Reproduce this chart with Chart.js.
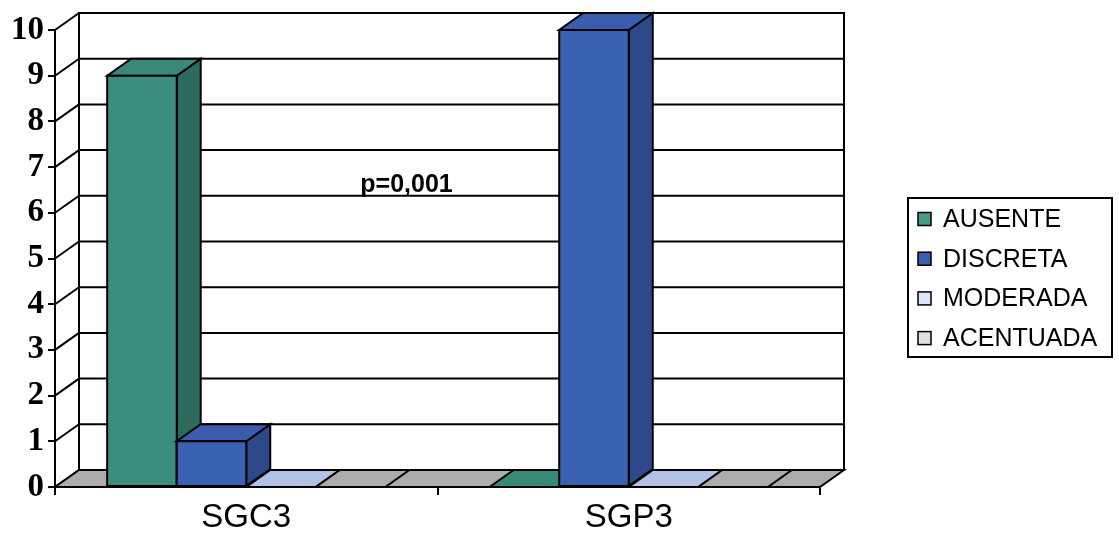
<!DOCTYPE html>
<html>
<head>
<meta charset="utf-8">
<script src="https://cdn.jsdelivr.net/npm/chart.js@4/dist/chart.umd.min.js"></script>
<style>
  html, body { margin: 0; padding: 0; background: #fff; }
  #wrap { width: 1119px; height: 536px; position: relative; }
</style>
</head>
<body>
<div id="wrap"><canvas id="c" width="1119" height="536"></canvas></div>
<script>
// Categories and series values
const categories = ['SGC3', 'SGP3'];
const seriesNames = ['AUSENTE', 'DISCRETA', 'MODERADA', 'ACENTUADA'];
const ausente   = [9, 0];
const discreta  = [1, 10];
const moderada  = [0, 0];
const acentuada = [0, 0];
const yTickValues = [0, 1, 2, 3, 4, 5, 6, 7, 8, 9, 10];
const pValueText = 'p=0,001';

// Face colours per series: front, side, top, legend swatch
const palette = [
  { front: '#3b8e7d', side: '#2c6a5e', top: '#3a8878', swatch: '#4a9a88' },
  { front: '#3b61b2', side: '#2c4a8a', top: '#3b5dad', swatch: '#3a5fb0' },
  { front: '#c9d6f2', side: '#9eadd4', top: '#b3c1e6', swatch: '#d8e4f8' },
  { front: '#d9d9d9', side: '#a9a9a9', top: '#acacac', swatch: '#e0e0e0' }
];
const floorColor = '#acacac';
const DX = 24, DY = 17; // depth offset of the 3D box

const seriesValues = [ausente, discreta, moderada, acentuada];

function poly(ctx, pts, fill) {
  ctx.beginPath();
  ctx.moveTo(pts[0][0], pts[0][1]);
  for (let i = 1; i < pts.length; i++) ctx.lineTo(pts[i][0], pts[i][1]);
  ctx.closePath();
  if (fill) { ctx.fillStyle = fill; ctx.fill(); }
  ctx.stroke();
}

const box3d = {
  id: 'box3d',
  beforeDatasetsDraw(chart) {
    const { ctx, chartArea: a, scales: { x, y } } = chart;
    ctx.save();
    ctx.lineWidth = 2;
    ctx.strokeStyle = '#000';
    ctx.lineJoin = 'miter';

    // back wall
    poly(ctx, [[a.left + DX, a.top - DY], [a.right + DX, a.top - DY],
               [a.right + DX, a.bottom - DY], [a.left + DX, a.bottom - DY]], '#fff');

    // gridlines on the back wall and diagonals on the side wall
    yTickValues.forEach(v => {
      const py = y.getPixelForValue(v);
      ctx.beginPath();
      ctx.moveTo(a.left + DX, py - DY);
      ctx.lineTo(a.right + DX, py - DY);
      ctx.stroke();
      ctx.beginPath();
      ctx.moveTo(a.left, py);
      ctx.lineTo(a.left + DX, py - DY);
      ctx.stroke();
    });

    // floor
    poly(ctx, [[a.left, a.bottom], [a.right, a.bottom],
               [a.right + DX, a.bottom - DY], [a.left + DX, a.bottom - DY]], floorColor);

    // bars, painted left to right so each front face covers its neighbour's side
    const n = chart.data.labels.length;
    for (let c = 0; c < n; c++) {
      chart.data.datasets.forEach((ds, di) => {
        const meta = chart.getDatasetMeta(di);
        const el = meta.data[c];
        const p = palette[di];
        const x0 = el.x - el.width / 2, x1 = el.x + el.width / 2;
        const top = el.y, base = el.base;
        if (Math.abs(base - top) < 0.5) {
          poly(ctx, [[x0, base], [x1, base], [x1 + DX, base - DY], [x0 + DX, base - DY]], p.top);
          return;
        }
        poly(ctx, [[x1, top], [x1 + DX, top - DY], [x1 + DX, base - DY], [x1, base]], p.side);
        poly(ctx, [[x0, top], [x1, top], [x1 + DX, top - DY], [x0 + DX, top - DY]], p.top);
        poly(ctx, [[x0, top], [x1, top], [x1, base], [x0, base]], p.front);
      });
    }

    // significance note
    const px = (x.getPixelForValue(0) + x.getPixelForValue(1)) / 2 - 31;
    const py = y.getPixelForValue(6.6);
    ctx.fillStyle = '#000';
    ctx.font = 'bold 25px "Liberation Sans", Arial, sans-serif';
    ctx.textAlign = 'center';
    ctx.textBaseline = 'middle';
    ctx.fillText(pValueText, px, py);

    ctx.restore();
    return false;
  },
  afterDraw(chart) {
    const { ctx } = chart;
    ctx.save();
    // legend box
    const lx = 908, ly = 198, lw = 204, lh = 159;
    ctx.lineWidth = 2;
    ctx.strokeStyle = '#000';
    ctx.fillStyle = '#fff';
    ctx.fillRect(lx, ly, lw, lh);
    ctx.strokeRect(lx, ly, lw, lh);
    ctx.font = '25px "Liberation Sans", Arial, sans-serif';
    ctx.textBaseline = 'middle';
    ctx.textAlign = 'left';
    chart.data.datasets.forEach((ds, i) => {
      const cy = 219 + i * 39.7;
      ctx.fillStyle = palette[i].swatch;
      ctx.fillRect(918, cy - 6.5, 13, 13);
      ctx.lineWidth = 1.5;
      ctx.strokeRect(918, cy - 6.5, 13, 13);
      ctx.fillStyle = '#000';
      ctx.fillText(ds.label, 943, cy + 1);
    });
    ctx.restore();
  }
};

new Chart(document.getElementById('c'), {
  type: 'bar',
  data: {
    labels: categories,
    datasets: seriesNames.map((name, i) => ({
      label: name,
      data: seriesValues[i],
      backgroundColor: palette[i].front,
      categoryPercentage: 4 / 5.5,
      barPercentage: 1.0
    }))
  },
  options: {
    responsive: false,
    animation: false,
    devicePixelRatio: 1,
    layout: { padding: { top: 30, right: 299, left: 0, bottom: 0 } },
    plugins: { legend: { display: false }, tooltip: { enabled: false } },
    scales: {
      x: {
        offset: true,
        grid: { drawOnChartArea: false, drawTicks: true, tickLength: 8, tickColor: '#000', lineWidth: 2, offset: true },
        border: { display: true, color: '#000', width: 2 },
        ticks: { color: '#000', padding: 3, font: { family: '"Liberation Sans", Arial, sans-serif', size: 33 } },
        afterFit(s) { s.height = 49; }
      },
      y: {
        min: 0, max: 10,
        grid: { drawOnChartArea: false, drawTicks: true, tickLength: 7, tickColor: '#000', lineWidth: 2 },
        border: { display: true, color: '#000', width: 2 },
        ticks: { stepSize: 1, color: '#000', padding: 4, font: { family: '"Liberation Serif", "Times New Roman", serif', size: 33, weight: 'bold' } },
        afterFit(s) { s.width = 55; }
      }
    }
  },
  plugins: [box3d]
});
</script>
</body>
</html>
